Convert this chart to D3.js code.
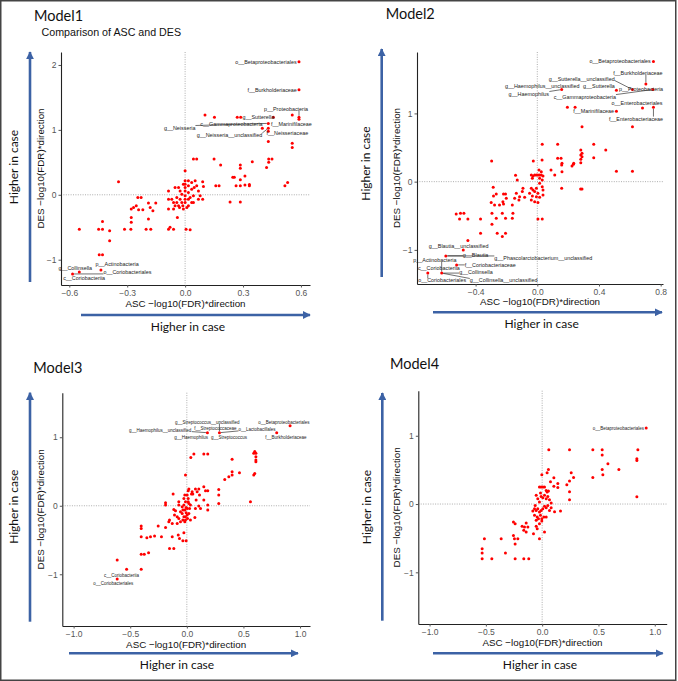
<!DOCTYPE html>
<html>
<head>
<meta charset="utf-8">
<script src="https://cdn.jsdelivr.net/npm/d3@7"></script>
<style>
  body { margin: 0; background: #fff; }
  text { font-family: "Liberation Sans", Arial, sans-serif; }
  .cal { font-family: Lato, "Open Sans", sans-serif; }
</style>
</head>
<body>
<script>
// ASC vs DES, -log10(FDR)*direction, one [asc, des] pair per taxon
var m1Points = [
  [0.59,2.05],[0.59,1.62],[0.103,1.23],[0.152,1.195],[0.27,1.195],[0.288,1.195],[0.457,1.195],[0.555,1.23],[0.59,1.195],[0.59,1.165],
  [0.40,1.025],[0.431,1.025],[0.431,1.10],[0.431,0.98],[0.431,0.82],[0.555,0.795],[0.555,0.73],
  [0.043,0.55],[0.06,0.55],[0.15,0.55],[0.184,0.46],[0.286,0.46],[0.286,0.41],[0.348,0.51],[0.433,0.55],[0.45,0.55],[0.433,0.50],[0.422,0.42],
  [0,0.37],[-0.345,0.20],[0.247,0.27],[0.255,0.27],[0.31,0.29],[0.286,0.23],[0.264,0.14],[0.286,0.14],[0.31,0.15],[0.333,0.16],[0.333,0.14],
  [0.159,0.14],[0.176,0.14],[0.517,0.14],[0.531,0.19],[0.233,-0.11],[0.286,-0.11],[0.091,-0.07],
  [-0.086,0.06],[-0.086,-0.067],[-0.086,-0.22],[-0.052,0.113],[-0.034,0.113],[-0.026,0.06],[-0.06,-0.118],[-0.043,-0.118],[-0.052,-0.17],
  [-0.034,-0.17],[-0.026,-0.067],[-0.017,-0.118],[0,0.215],[0,0.164],[0,0.113],[0,0.06],[0,-0.015],[0,-0.067],[0,-0.118],[0.017,0.138],
  [0.017,0.036],[0.017,-0.067],[0.017,-0.17],[0.034,0.19],[0.034,0.087],[0.043,-0.015],[0.043,-0.118],[0.052,0.215],[0.06,0.138],[0.069,0.06],
  [0.069,-0.067],[0.091,0.2],[0.095,0.128],[0.078,-0.015],[0.009,-0.195],[-0.009,-0.22],[-0.06,-0.22],[-0.04,-0.35],[-0.017,0.01],[-0.012,-0.17],
  [0.026,-0.04],[0.034,-0.118],[-0.078,-0.50],[-0.06,-0.53],[-0.086,-0.53],[0.005,-0.53],[0.026,-0.54],[-0.043,-0.04],[-0.069,-0.067],
  [-0.029,-0.195],[-0.009,0.164],[0.017,0.215],[0.047,0.113],
  [-0.245,-0.04],[-0.228,-0.04],[-0.279,-0.22],[-0.267,-0.195],[-0.253,-0.17],[-0.241,-0.23],[-0.219,-0.23],[-0.19,-0.128],[-0.181,-0.195],
  [-0.152,-0.128],[-0.279,-0.35],[-0.279,-0.425],[-0.19,-0.374],[-0.167,-0.246],[-0.428,-0.41],[-0.448,-0.53],[-0.428,-0.53],[-0.391,-0.554],
  [-0.391,-0.708],[-0.548,-0.53],[-0.314,-0.53],[-0.281,-0.53],[-0.202,-0.53],[-0.178,-0.53],[-0.445,-0.923],[-0.428,-0.923],
  [-0.548,-1.19],[-0.436,-1.16],[-0.583,-1.22]
];
var m1Labels = [
  ["o__Betaproteobacteriales",0.59,2.05],["f__Burkholderiaceae",0.59,1.62],["p__Proteobacteria",0.59,1.195],
  ["g__Sutterella",0.288,1.195],["c__Gammaproteobacteria",0.40,1.025],["f__Marinifilaceae",0.431,1.025],
  ["g__Neisseria",0.431,1.10],["g__Neisseria__unclassified",0.431,1.025],["f__Neisseriaceae",0.431,0.98],
  ["g__Collinsella",-0.548,-1.19],["p__Actinobacteria",-0.436,-1.16],["o__Coriobacteriales",-0.583,-1.22],["c__Coriobacteriia",-0.583,-1.22]
];
var m1LabelAt = [
  [0.578,2.05,"end"],[0.579,1.62,"end"],[0.523,1.32,"middle"],[0.297,1.195,"start"],[0.24,1.09,"middle"],[0.551,1.09,"middle"],
  [-0.028,1.035,"middle"],[0.23,0.92,"middle"],[0.53,0.95,"middle"],
  [-0.569,-1.128,"middle"],[-0.352,-1.066,"middle"],[-0.299,-1.19,"middle"],[-0.523,-1.29,"middle"]
];

var m2Points = [
  [0.753,1.76],[0.704,1.43],[0.749,1.35],[0.617,1.35],[0.513,1.34],[0.158,1.35],[0.195,1.09],[0.245,1.09],[0.682,1.08],[0.753,1.09],
  [0.513,1.03],[0.617,0.805],[0.29,0.805],[0.032,0.547],[0.132,0.547],[0.366,0.547],[0.282,0.464],[0.444,0.464],[-0.026,0.303],
  [-0.296,0.303],[0.031,0.318],[0.132,0.342],[0.154,0.342],[0.282,0.39],[0.282,0.33],[0.282,0.278],[0.366,0.35],[0.158,0.245],
  [0.234,0.255],[0.29,0.415],[0.29,0.366],[0.16,0.268],[0.16,0.146],[0.225,0.23],[0.236,0.268],[0.089,0.17],[0.113,0.098],
  [0.513,0.151],[0.617,0.151],[0.158,-0.098],[0.281,-0.107],[0.29,-0.107],
  [-0.039,0.098],[-0.028,0.083],[-0.017,0.098],[-0.006,0.098],[0.004,0.098],[0.015,0.098],[0.026,0.098],[0.037,0.083],[-0.032,0.049],
  [0.015,0.049],[0.032,0.024],[0.026,0.146],[0.011,0.171],[0.015,-0.024],[0.032,-0.073],[0.037,-0.122],[-0.039,-0.098],[-0.028,-0.122],
  [-0.017,-0.146],[-0.006,-0.098],[0.004,-0.171],[-0.05,-0.171],[-0.032,-0.21],[-0.006,-0.22],[0.015,-0.229],[0.037,-0.195],[-0.039,-0.268],
  [-0.017,-0.293],[0.004,-0.307],[-0.13,0.024],[-0.141,0.093],[-0.093,-0.098],[-0.097,-0.146],[-0.136,-0.171],[-0.115,-0.22],
  [-0.147,-0.244],[-0.119,-0.268],[-0.082,-0.229],[0.032,-0.546],[0.004,-0.546],
  [-0.286,-0.083],[-0.266,-0.18],[-0.284,-0.21],[-0.219,-0.18],[-0.206,-0.18],[-0.201,-0.244],[-0.223,-0.293],[-0.299,-0.307],
  [-0.277,-0.341],[-0.245,-0.341],[-0.219,-0.327],[-0.162,-0.341],[-0.158,-0.463],[-0.162,-0.537],[-0.294,-0.463],[-0.227,-0.463],
  [-0.206,-0.537],[-0.266,-0.537],[-0.294,-0.624],[-0.526,-0.473],[-0.498,-0.463],[-0.476,-0.463],[-0.504,-0.546],[-0.45,-0.546],
  [-0.368,-0.546],[-0.368,-0.756],[-0.26,-0.756],[-0.227,-0.805],[-0.206,-0.756],[-0.45,-0.863],
  [-0.48,-1.0],[-0.593,-1.088],[-0.523,-1.22],[-0.62,-1.34],[-0.71,-1.34]
];
var m2Labels = [
  ["o__Betaproteobacteriales",0.753,1.76],["f__Burkholderiaceae",0.704,1.43],["g__Sutterella__unclassified",0.617,1.35],
  ["g__Haemophilus__unclassified",0.158,1.35],["g__Sutterella",0.513,1.34],["p__Proteobacteria",0.749,1.35],
  ["g__Haemophilus",0.158,1.35],["c__Gammaproteobacteria",0.749,1.35],["o__Enterobacteriales",0.682,1.08],
  ["f__Marinifilaceae",0.513,1.03],["f__Enterobacteriaceae",0.753,1.09],
  ["g__Blautia__unclassified",-0.48,-1.0],["g__Blautia",-0.593,-1.088],["g__Phascolarctobacterium__unclassified",-0.593,-1.088],
  ["p__Actinobacteria",-0.62,-1.34],["c__Coriobacteriia",-0.62,-1.34],["f__Coriobacteriaceae",-0.523,-1.22],
  ["g__Collinsella",-0.62,-1.34],["o__Coriobacteriales",-0.71,-1.34],["g__Collinsella__unclassified",-0.62,-1.34]
];
var m2LabelAt = [
  [0.736,1.76,"end"],[0.652,1.596,"middle"],[0.288,1.51,"middle"],[0.032,1.40,"middle"],[0.40,1.40,"middle"],[0.673,1.36,"middle"],
  [-0.055,1.29,"middle"],[0.308,1.245,"middle"],[0.647,1.148,"middle"],[0.498,1.03,"end"],[0.64,0.922,"middle"],
  [-0.51,-0.95,"middle"],[-0.40,-1.078,"middle"],[0.039,-1.12,"middle"],[-0.664,-1.146,"middle"],[-0.638,-1.268,"middle"],
  [-0.305,-1.23,"middle"],[-0.398,-1.332,"middle"],[-0.617,-1.45,"middle"],[-0.218,-1.45,"middle"]
];

var m3Points = [
  [0.912,1.168],[0.794,1.066],[0.182,1.066],[0.288,1.066],[0.062,0.754],[0.15,0.754],[0.185,0.754],[0.035,0.706],[0.60,0.79],
  [0.61,0.766],[0.591,0.766],[0.61,0.716],[0.61,0.667],[0.61,0.642],[0.40,0.68],[0.40,0.496],[0.40,0.448],[0.465,0.482],[0.371,0.423],
  [0.335,0.384],[0.60,0.472],[0.591,0.448],[-0.012,0.448],[0.562,0.058],
  [-0.121,0.17],[-0.188,0.044],[-0.188,0.01],[-0.115,-0.054],[-0.1,-0.073],[-0.109,-0.136],[-0.085,-0.161],[-0.071,-0.185],[-0.056,-0.088],
  [-0.041,-0.112],[-0.035,-0.209],[-0.026,-0.161],[-0.012,-0.161],[0.003,-0.136],[0.018,-0.112],[0.024,-0.039],[0.032,0.01],[0.012,0.058],
  [0.012,0.107],[0.003,0.156],[0.012,0.219],[0.018,0.243],[0.047,0.204],[0.053,0.17],[0.076,0.243],[0.091,0.204],[0.106,0.243],[0.15,0.277],
  [0.165,0.219],[0.185,0.219],[0.112,0.156],[0.15,0.083],[0.185,0.01],[0.185,-0.063],[0.106,-0.005],[0.076,-0.039],[0.071,-0.17],
  [0.032,-0.209],[-0.018,-0.234],[-0.056,-0.234],[-0.085,-0.258],[-0.153,-0.209],[-0.159,-0.234],[-0.188,-0.316],[-0.129,-0.258],
  [0.041,0.17],[-0.012,0.058],[-0.026,0.01],[-0.006,-0.024],[-0.041,-0.015],[-0.071,0.01],[-0.071,0.058],[-0.026,0.107],[0.082,0.083],
  [0.121,-0.039],[0.282,0.238],[0.282,0.156],[0.282,0.034],[-0.018,-0.063],[-0.006,-0.102],[0.006,-0.185],[-0.035,-0.063],
  [-0.012,-0.209],[0.003,-0.039],[0.018,0.034],[-0.018,0.156],
  [-0.403,-0.297],[-0.403,-0.331],[-0.253,-0.297],[-0.403,-0.453],[-0.353,-0.467],[-0.321,-0.453],[-0.285,-0.443],[-0.224,-0.453],
  [-0.129,-0.453],[-0.076,-0.428],[-0.065,-0.477],[-0.026,-0.394],[-0.035,-0.511],[-0.006,-0.511],[-0.153,-0.623],[-0.115,-0.623],
  [-0.403,-0.706],[-0.376,-0.706],[-0.338,-0.686],[-0.615,-0.793],[-0.532,-0.925],[-0.403,-0.925],[-0.615,-1.07]
];
var m3Labels = [
  ["g__Streptococcus__unclassified",0.288,1.066],["o__Betaproteobacteriales",0.912,1.168],["g__Haemophilus__unclassified",0.182,1.066],
  ["f__Streptococcaceae",0.288,1.066],["o__Lactobacillales",0.288,1.066],["g__Haemophilus",0.182,1.066],
  ["g__Streptococcus",0.288,1.066],["f__Burkholderiaceae",0.794,1.066],
  ["c__Coriobacteriia",-0.615,-1.07],["o__Coriobacteriales",-0.615,-1.07]
];
var m3LabelAt = [
  [0.18,1.222,"middle"],[0.857,1.222,"middle"],[-0.236,1.105,"middle"],[0.253,1.124,"middle"],[0.62,1.115,"middle"],
  [0.038,0.998,"middle"],[0.373,0.998,"middle"],[0.874,0.998,"middle"],[-0.578,-1.012,"middle"],[-0.65,-1.133,"middle"]
];

var m4Points = [
  [0.924,1.112],[0.059,0.795],[0.243,0.795],[0.45,0.795],[0.533,0.795],[0.85,0.795],[0.533,0.717],[0.841,0.663],[0.841,0.639],
  [0.584,0.59],[0.681,0.507],[0.533,0.507],[0.539,0.43],[0.45,0.39],[0.841,0.107],[0.056,0.507],[0.044,0.459],[-0.003,0.43],
  [0.258,0.459],[0.243,0.337],[0.279,0.39],[0.074,0.327],[0.104,0.385],[0.104,0.259],[0.139,0.302],[0.139,0.244],[0.219,0.283],
  [0.243,0.18],[0.243,0.063],[0.163,-0.102],[0.11,-0.112],
  [-0.024,0.249],[-0.009,0.249],[0.006,0.249],[0.021,0.249],[0.036,0.2],[0.044,0.176],[0.056,0.19],[-0.015,0.161],[-0.009,0.112],
  [0.006,0.093],[0.021,0.127],[0.036,0.078],[0.05,0.112],[0.065,0.063],[0.08,0.015],[-0.039,0.078],[-0.024,0.029],[-0.053,0.127],
  [-0.062,-0.02],[-0.068,-0.068],[-0.053,-0.093],[-0.039,-0.068],[-0.024,-0.117],[-0.009,-0.093],[0.006,-0.068],[0.021,-0.034],
  [0.036,-0.054],[0.05,-0.02],[0.065,-0.093],[0.08,-0.054],[-0.044,-0.19],[-0.033,-0.215],[-0.015,-0.166],[-0.003,-0.215],[0.015,-0.19],
  [-0.083,-0.102],[-0.068,-0.166],[-0.053,-0.239],[-0.024,-0.288],[0.036,-0.19],[0.021,-0.41],[-0.003,-0.249],
  [-0.255,-0.263],[-0.24,-0.288],[-0.178,-0.327],[-0.157,-0.337],[-0.142,-0.278],[-0.163,-0.385],[-0.142,-0.41],[-0.127,-0.337],
  [-0.053,-0.327],[-0.077,-0.434],[-0.044,-0.361],[-0.024,-0.507],[-0.255,-0.459],[-0.246,-0.507],[-0.216,-0.507],[-0.24,-0.585],
  [-0.513,-0.507],[-0.364,-0.507],[-0.533,-0.654],[-0.533,-0.717],[-0.533,-0.8],[-0.447,-0.8],[-0.326,-0.717],[-0.24,-0.8],
  [-0.163,-0.8],[-0.119,-0.8]
];
var m4Labels = [["o__Betaproteobacteriales",0.924,1.112]];
var m4LabelAt = [[0.905,1.112,"end"]];

var xTicks12 = [[-0.6,-0.3,0,0.3,0.6],[-0.4,0,0.4,0.8]];
var xTicks34 = [-1,-0.5,0,0.5,1];

var svg = d3.select('body').append('svg')
  .attr('width', 678)
  .attr('height', 681);

svg.append('rect').attr('width', 678).attr('height', 681).style('fill', '#fff');
svg.append('rect').attr('x', 0.75).attr('y', 0.75).attr('width', 675).attr('height', 679.5)
  .style('fill', 'none').style('stroke', '#444').style('stroke-width', 1.5);

var blue = '#3c62a5';
svg.append('defs').append('marker')
  .attr('id', 'head').attr('viewBox', '0 0 10 10')
  .attr('refX', 9).attr('refY', 5)
  .attr('markerWidth', 8).attr('markerHeight', 8)
  .attr('markerUnits', 'userSpaceOnUse')
  .attr('orient', 'auto')
  .append('path').attr('d', 'M0,0 L10,5 L0,10 z').style('fill', blue);

function arrow(x1, y1, x2, y2) {
  svg.append('line')
    .attr('x1', x1).attr('y1', y1).attr('x2', x2).attr('y2', y2)
    .style('stroke', blue).style('stroke-width', 2.6)
    .attr('marker-end', 'url(#head)');
}

function panel(p, pts, labs, labAt) {
  var x = d3.scaleLinear().domain(p.xd).range([p.l, p.r]);
  var y = d3.scaleLinear().domain(p.yd).range([p.b, p.t]);
  var g = svg.append('g');

  // dotted zero lines
  g.append('line').attr('x1', x(0)).attr('x2', x(0)).attr('y1', p.t).attr('y2', p.b)
    .style('stroke', '#8a8a8a').style('stroke-width', 0.7).style('stroke-dasharray', '1,1.4');
  g.append('line').attr('x1', p.l).attr('x2', p.r).attr('y1', y(0)).attr('y2', y(0))
    .style('stroke', '#8a8a8a').style('stroke-width', 0.7).style('stroke-dasharray', '1,1.4');

  var xa = g.append('g').attr('transform', 'translate(0,' + p.b + ')')
    .call(d3.axisBottom(x).tickValues(p.xt).tickFormat(d3.format('.1f')).tickSizeInner(2.5).tickSizeOuter(0).tickPadding(2));
  var ya = g.append('g').attr('transform', 'translate(' + p.l + ',0)')
    .call(d3.axisLeft(y).tickValues(p.yt).tickFormat(d3.format('d')).tickSizeInner(2.5).tickSizeOuter(0).tickPadding(2));
  [xa, ya].forEach(function (a) {
    a.select('.domain').style('stroke', '#222').style('stroke-width', 1.1);
    a.selectAll('.tick line').style('stroke', '#555');
    a.selectAll('.tick text').style('fill', '#555').style('font-size', '8.5px')
      .style('font-family', '"Liberation Sans", Arial, sans-serif');
  });

  // label segments, then points, then text
  var segs = g.append('g');
  g.selectAll('circle.pt').data(pts).join('circle')
    .attr('cx', function (d) { return x(d[0]); })
    .attr('cy', function (d) { return y(d[1]); })
    .attr('r', 1.5)
    .style('fill', '#ff0000');

  labs.forEach(function (d, i) {
    var at = labAt[i];
    var t = g.append('text')
      .attr('x', x(at[0])).attr('y', y(at[1])).attr('dy', '0.35em')
      .attr('text-anchor', at[2])
      .style('font-size', p.lf + 'px').style('fill', '#222')
      .text(d[0]);
    var bb = t.node().getBBox();
    var px = x(d[1]), py = y(d[2]);
    var nx = Math.max(bb.x, Math.min(px, bb.x + bb.width));
    var ny = Math.max(bb.y + 1, Math.min(py, bb.y + bb.height - 1));
    var dist = Math.hypot(px - nx, py - ny);
    if (dist > 5) {
      segs.append('line').attr('x1', nx).attr('y1', ny)
        .attr('x2', px - (px - nx) / dist * 1.5).attr('y2', py - (py - ny) / dist * 1.5)
        .style('stroke', '#111').style('stroke-width', 0.6);
    }
  });

  // titles
  svg.append('text').attr('class', 'cal').attr('x', p.mx).attr('y', p.my)
    .style('font-size', '14.5px').style('fill', '#111').text(p.name);
  svg.append('text').attr('x', (p.l + p.r) / 2).attr('y', p.xty).attr('text-anchor', 'middle')
    .style('font-size', '9.8px').style('fill', '#111').text('ASC \u2212log10(FDR)*direction');
  svg.append('text').attr('transform', 'translate(' + p.ytx + ',' + (p.t + p.b) / 2 + ') rotate(-90)')
    .attr('text-anchor', 'middle').attr('dy', '0.35em')
    .style('font-size', '9.8px').style('fill', '#111').text('DES \u2212log10(FDR)*direction');

  arrow(p.ha[0], p.ha[1], p.ha[2], p.ha[1]);
  arrow(p.va[0], p.va[1], p.va[0], p.va[2]);
  svg.append('text').attr('class', 'cal').attr('x', p.hx).attr('y', p.hy).attr('text-anchor', 'middle')
    .style('font-size', '12px').style('fill', '#111').text('Higher in case');
  svg.append('text').attr('class', 'cal')
    .attr('transform', 'translate(' + p.vx + ',' + p.vy + ') rotate(-90)')
    .attr('text-anchor', 'middle').attr('dy', '0.35em')
    .style('font-size', '12px').style('fill', '#111').text('Higher in case');
}

panel({ name: 'Model1', mx: 34, my: 20.5, l: 61, r: 310, t: 52, b: 285, xd: [-0.643, 0.647], yd: [-1.39, 2.2],
  xt: xTicks12[0], yt: [-1, 0, 1, 2], lf: 5.4, xty: 307, ytx: 40.5,
  ha: [81, 315, 310], va: [30, 282, 52], hx: 188, hy: 331, vx: 14, vy: 167 }, m1Points, m1Labels, m1LabelAt);
svg.append('text').attr('x', 41.5).attr('y', 35.5).style('font-size', '10.7px').style('fill', '#111')
  .text('Comparison of ASC and DES');

panel({ name: 'Model2', mx: 385.7, my: 19.3, l: 417, r: 663, t: 52, b: 284, xd: [-0.78, 0.815], yd: [-1.5, 1.9],
  xt: xTicks12[1], yt: [-1, 0, 1], lf: 5.4, xty: 305, ytx: 396.7,
  ha: [433, 312.3, 662], va: [381.7, 277, 49], hx: 541.7, hy: 328, vx: 366, vy: 163.5 }, m2Points, m2Labels, m2LabelAt);

panel({ name: 'Model3', mx: 33.3, my: 372.7, l: 62.3, r: 310, t: 392.7, b: 626, xd: [-1.1, 1.088], yd: [-1.755, 1.65],
  xt: xTicks34, yt: [-1, 0, 1], lf: 4.5, xty: 648, ytx: 41,
  ha: [69, 653.3, 298], va: [30, 621.7, 392.7], hx: 177, hy: 669, vx: 14, vy: 506.7 }, m3Points, m3Labels, m3LabelAt);

panel({ name: 'Model4', mx: 390, my: 369, l: 418.3, r: 666.7, t: 390.7, b: 624, xd: [-1.1, 1.106], yd: [-1.757, 1.66],
  xt: xTicks34, yt: [-1, 0, 1], lf: 4.5, xty: 646, ytx: 397,
  ha: [433, 653.3, 662.7], va: [382.3, 620.7, 393], hx: 540, hy: 669, vx: 367, vy: 507 }, m4Points, m4Labels, m4LabelAt);
</script>
</body>
</html>
